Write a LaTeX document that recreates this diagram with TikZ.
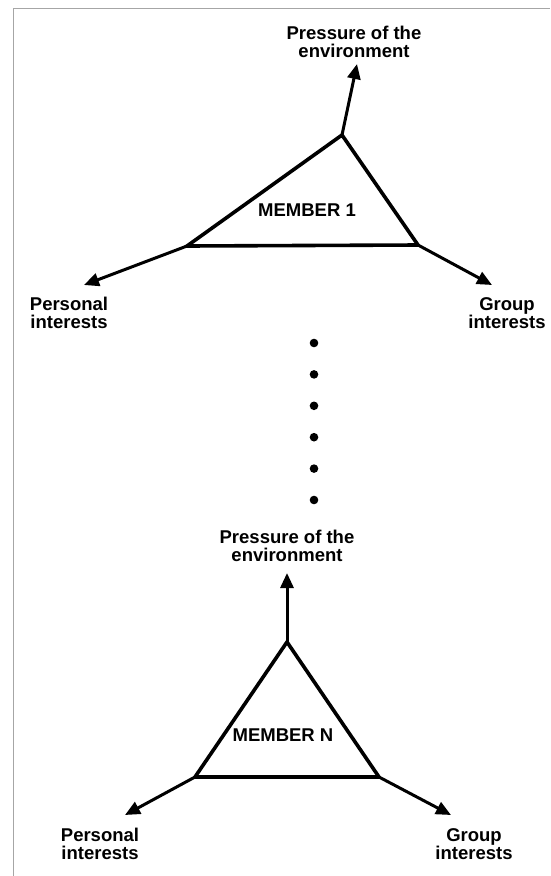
\documentclass[tikz,border=0pt]{standalone}
\usepackage{fontspec}
\setmainfont{Liberation Sans}
\usetikzlibrary{arrows.meta}
\tikzset{
  sideline/.style  = {line width=3.6pt,line join=miter},
  forcearr/.style  = {-{Triangle[length=15pt,width=13pt]},line width=3pt},
  lbl/.style       = {font=\fontsize{18.5}{18}\selectfont\bfseries,align=center,inner sep=0pt},
  frameline/.style = {gray!70,line width=1.5pt}
}

\begin{document}
\begin{tikzpicture}[x=1pt,y=-1pt]
  \useasboundingbox (0,0) rectangle (550,876);
  \draw[frameline] (13.5,876) -- (13.5,8.5) -- (550,8.5);
  % member 1
  \coordinate (top1) at (342,135);
  \coordinate (left1) at (187,246);
  \coordinate (right1) at (418,245);
  \draw[sideline] (top1) -- (left1) -- (right1) -- cycle;
  \coordinate (envtip1) at (357,64);
  \coordinate (perstip1) at (84,285);
  \coordinate (grptip1) at (492,285);
  \draw[forcearr] (top1) -- (envtip1);
  \draw[forcearr] (left1) -- (perstip1);
  \draw[forcearr] (right1) -- (grptip1);
  \node[lbl] (env1)  at (354,42)  {Pressure of the\\environment};
  \node[lbl] (name1) at (307,210) {MEMBER 1};
  \node[lbl] (pers1) at (69,313)  {Personal\\interests};
  \node[lbl] (grp1)  at (507,313) {Group\\interests};
  % dots between the members
  \foreach \k in {0,...,5}
    \fill (314,343+31.4*\k) circle (4.3pt);
  % member N
  \coordinate (topN) at (287,642);
  \coordinate (leftN) at (195,777);
  \coordinate (rightN) at (379,777);
  \draw[sideline] (topN) -- (leftN) -- (rightN) -- cycle;
  \coordinate (envtipN) at (287,573);
  \coordinate (perstipN) at (125,815);
  \coordinate (grptipN) at (451,815);
  \draw[forcearr] (topN) -- (envtipN);
  \draw[forcearr] (leftN) -- (perstipN);
  \draw[forcearr] (rightN) -- (grptipN);
  \node[lbl] (envN)  at (287,546) {Pressure of the\\environment};
  \node[lbl] (nameN) at (283,735) {MEMBER N};
  \node[lbl] (persN) at (100,844) {Personal\\interests};
  \node[lbl] (grpN)  at (474,844) {Group\\interests};
\end{tikzpicture}
\end{document}
